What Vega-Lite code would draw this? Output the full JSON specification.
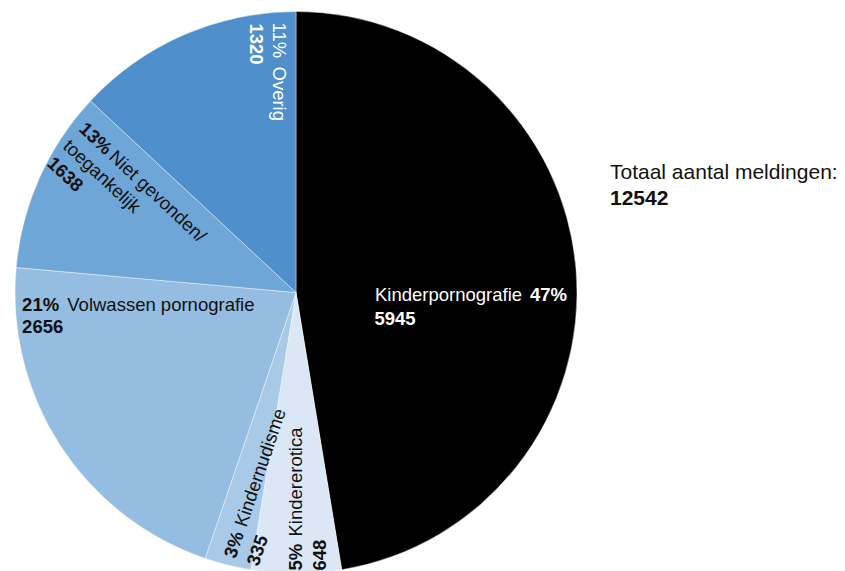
{
  "$schema": "https://vega.github.io/schema/vega-lite/v6.json",
  "padding": {"left": 13, "top": 9.5, "right": 0, "bottom": 0},
  "spacing": 32,
  "bounds": "flush",
  "background": "white",
  "config": {"view": {"stroke": null}, "text": {"font": "Liberation Sans", "fontSize": 18.5, "align": "left", "baseline": "alphabetic"}},
  "hconcat": [
    {
      "width": 562,
      "height": 562,
      "data": {"values": [
        {"category": "Kinderpornografie", "order": 1, "slice": 5945, "pct": "47%", "count": "5945", "name": "Kinderpornografie", "name2": ""},
        {"category": "Kindererotica", "order": 2, "slice": 648, "pct": "5%", "count": "648", "name": "Kindererotica", "name2": ""},
        {"category": "Kindernudisme", "order": 3, "slice": 335, "pct": "3%", "count": "335", "name": "Kindernudisme", "name2": ""},
        {"category": "Volwassen pornografie", "order": 4, "slice": 2656, "pct": "21%", "count": "2656", "name": "Volwassen pornografie", "name2": ""},
        {"category": "Niet gevonden/toegankelijk", "order": 5, "slice": 1320, "pct": "13%", "count": "1638", "name": "Niet gevonden/", "name2": "toegankelijk"},
        {"category": "Overig", "order": 6, "slice": 1638, "pct": "11%", "count": "1320", "name": "Overig", "name2": ""}
      ]},
      "transform": [
        {"stack": "slice", "groupby": [], "sort": [{"field": "order", "order": "ascending"}], "as": ["v0", "v1"]}
      ],
      "layer": [
        {
          "mark": {"type": "arc", "stroke": "#ffffff", "strokeWidth": 0.6, "strokeOpacity": 0.7},
          "encoding": {
            "theta": {"field": "v0", "type": "quantitative", "stack": null, "scale": {"domain": [0, 12542]}},
            "theta2": {"field": "v1"},
            "color": {"field": "category", "type": "nominal", "legend": null,
              "scale": {"domain": ["Kinderpornografie", "Kindererotica", "Kindernudisme", "Volwassen pornografie", "Niet gevonden/toegankelijk", "Overig"],
                        "range": ["#000000", "#dbe7f4", "#a8c9e8", "#95bce1", "#6fa6d8", "#4e8fcc"]}},
            "order": {"field": "order"}
          }
        },
        {"transform": [{"filter": "datum.category === 'Kinderpornografie'"}],
         "mark": {"type": "text", "radius": 0, "dx": 79, "dy": 8, "fill": "#ffffff"},
         "encoding": {"theta": {"field": "v0", "type": "quantitative", "stack": null}, "text": {"field": "name"}}},
        {"transform": [{"filter": "datum.category === 'Kinderpornografie'"}],
         "mark": {"type": "text", "radius": 0, "dx": 234, "dy": 8, "fill": "#ffffff", "fontWeight": "bold"},
         "encoding": {"theta": {"field": "v0", "type": "quantitative", "stack": null}, "text": {"field": "pct"}}},
        {"transform": [{"filter": "datum.category === 'Kinderpornografie'"}],
         "mark": {"type": "text", "radius": 0, "dx": 78.5, "dy": 32, "fill": "#ffffff", "fontWeight": "bold"},
         "encoding": {"theta": {"field": "v0", "type": "quantitative", "stack": null}, "text": {"field": "count"}}},

        {"transform": [{"filter": "datum.category === 'Kindererotica'"}],
         "mark": {"type": "text", "radius": 281.7, "angle": 270, "dx": 0, "dy": 51.7, "fill": "#111111", "fontWeight": "bold"},
         "encoding": {"theta": {"field": "v1", "type": "quantitative", "stack": null}, "text": {"field": "pct"}}},
        {"transform": [{"filter": "datum.category === 'Kindererotica'"}],
         "mark": {"type": "text", "radius": 281.7, "angle": 270, "dx": 34, "dy": 51.7, "fill": "#111111"},
         "encoding": {"theta": {"field": "v1", "type": "quantitative", "stack": null}, "text": {"field": "name"}}},
        {"transform": [{"filter": "datum.category === 'Kindererotica'"}],
         "mark": {"type": "text", "radius": 281.7, "angle": 270, "dx": 0, "dy": 75.2, "fill": "#111111", "fontWeight": "bold"},
         "encoding": {"theta": {"field": "v1", "type": "quantitative", "stack": null}, "text": {"field": "count"}}},

        {"transform": [{"filter": "datum.category === 'Kindernudisme'"}],
         "mark": {"type": "text", "radius": 272, "angle": 288.86, "dx": 0, "dy": 29, "fill": "#111111", "fontWeight": "bold"},
         "encoding": {"theta": {"field": "v1", "type": "quantitative", "stack": null}, "text": {"field": "pct"}}},
        {"transform": [{"filter": "datum.category === 'Kindernudisme'"}],
         "mark": {"type": "text", "radius": 272, "angle": 288.86, "dx": 33, "dy": 29, "fill": "#111111"},
         "encoding": {"theta": {"field": "v1", "type": "quantitative", "stack": null}, "text": {"field": "name"}}},
        {"transform": [{"filter": "datum.category === 'Kindernudisme'"}],
         "mark": {"type": "text", "radius": 272, "angle": 288.86, "dx": 0, "dy": 53, "fill": "#111111", "fontWeight": "bold"},
         "encoding": {"theta": {"field": "v1", "type": "quantitative", "stack": null}, "text": {"field": "count"}}},

        {"transform": [{"filter": "datum.category === 'Volwassen pornografie'"}],
         "mark": {"type": "text", "radius": 275, "dx": 0, "dy": 43, "fill": "#111111", "fontWeight": "bold"},
         "encoding": {"theta": {"field": "v1", "type": "quantitative", "stack": null}, "text": {"field": "pct"}}},
        {"transform": [{"filter": "datum.category === 'Volwassen pornografie'"}],
         "mark": {"type": "text", "radius": 275, "dx": 45.2, "dy": 43, "fill": "#111111"},
         "encoding": {"theta": {"field": "v1", "type": "quantitative", "stack": null}, "text": {"field": "name"}}},
        {"transform": [{"filter": "datum.category === 'Volwassen pornografie'"}],
         "mark": {"type": "text", "radius": 275, "dx": 0, "dy": 65.4, "fill": "#111111", "fontWeight": "bold"},
         "encoding": {"theta": {"field": "v1", "type": "quantitative", "stack": null}, "text": {"field": "count"}}},

        {"transform": [{"filter": "datum.category === 'Niet gevonden/toegankelijk'"}],
         "mark": {"type": "text", "radius": 270, "angle": 42.98, "dx": 0, "dy": 30, "fill": "#111111", "fontWeight": "bold"},
         "encoding": {"theta": {"field": "v1", "type": "quantitative", "stack": null}, "text": {"field": "pct"}}},
        {"transform": [{"filter": "datum.category === 'Niet gevonden/toegankelijk'"}],
         "mark": {"type": "text", "radius": 270, "angle": 42.98, "dx": 41, "dy": 30, "fill": "#111111"},
         "encoding": {"theta": {"field": "v1", "type": "quantitative", "stack": null}, "text": {"field": "name"}}},
        {"transform": [{"filter": "datum.category === 'Niet gevonden/toegankelijk'"}],
         "mark": {"type": "text", "radius": 270, "angle": 42.98, "dx": 0, "dy": 53.5, "fill": "#111111"},
         "encoding": {"theta": {"field": "v1", "type": "quantitative", "stack": null}, "text": {"field": "name2"}}},
        {"transform": [{"filter": "datum.category === 'Niet gevonden/toegankelijk'"}],
         "mark": {"type": "text", "radius": 270, "angle": 42.98, "dx": 0, "dy": 77, "fill": "#111111", "fontWeight": "bold"},
         "encoding": {"theta": {"field": "v1", "type": "quantitative", "stack": null}, "text": {"field": "count"}}},

        {"transform": [{"filter": "datum.category === 'Overig'"}],
         "mark": {"type": "text", "radius": 270, "angle": 90, "dx": 0, "dy": 23.5, "fill": "#ffffff"},
         "encoding": {"theta": {"field": "v1", "type": "quantitative", "stack": null}, "text": {"field": "pct"}}},
        {"transform": [{"filter": "datum.category === 'Overig'"}],
         "mark": {"type": "text", "radius": 270, "angle": 90, "dx": 44, "dy": 23.5, "fill": "#ffffff"},
         "encoding": {"theta": {"field": "v1", "type": "quantitative", "stack": null}, "text": {"field": "name"}}},
        {"transform": [{"filter": "datum.category === 'Overig'"}],
         "mark": {"type": "text", "radius": 270, "angle": 90, "dx": 1, "dy": 46.5, "fill": "#ffffff", "fontWeight": "bold"},
         "encoding": {"theta": {"field": "v1", "type": "quantitative", "stack": null}, "text": {"field": "count"}}}
      ]
    },
    {
      "width": 2,
      "height": 562,
      "data": {"values": [{"label": "Totaal aantal meldingen:", "total": "12542"}]},
      "layer": [
        {"mark": {"type": "text", "fontSize": 21, "dy": -113.5, "fill": "#111111"},
         "encoding": {"text": {"field": "label"}}},
        {"mark": {"type": "text", "fontSize": 21, "fontWeight": "bold", "dy": -88, "fill": "#111111"},
         "encoding": {"text": {"field": "total"}}}
      ]
    }
  ]
}
